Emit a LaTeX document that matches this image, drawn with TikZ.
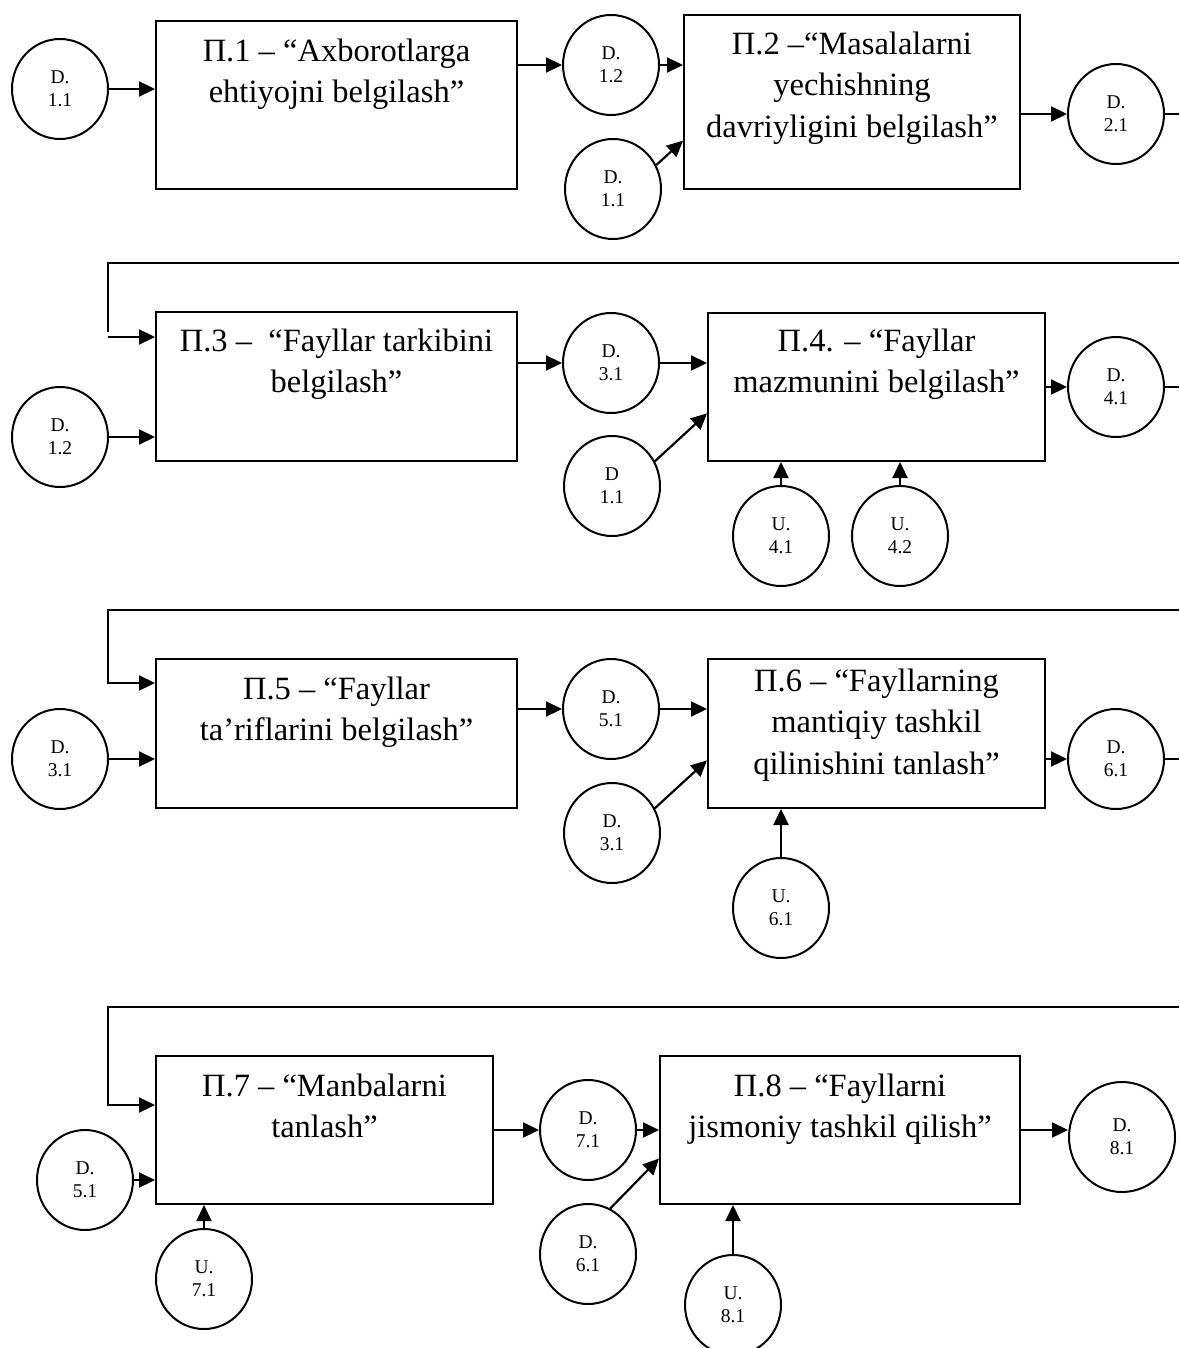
\documentclass[tikz,border=0pt]{standalone}
\usepackage{fontspec}
\setmainfont{Liberation Serif}
\usetikzlibrary{arrows.meta,shapes.geometric,calc}
\newcommand{\ftop}{\rule{0pt}{26pt}}
\begin{document}
\begin{tikzpicture}[x=1pt,y=-1pt,
  proc/.style={draw, line width=2pt, rectangle, inner sep=0},
  ptext/.style={anchor=north, inner sep=0, align=center, font=\fontsize{32.5}{41.7}\selectfont},
  dat/.style={draw, line width=2pt, ellipse, minimum width=96pt, minimum height=100pt, inner sep=0, align=center, font=\fontsize{19.5}{23}\selectfont},
  arr/.style={line width=2.2pt, -{Triangle[length=16pt,width=15pt]}},
  ln/.style={line width=2.2pt}]
\useasboundingbox[fill=white] (0,0) rectangle (1179,1348);

% ---------------- Row 1
\node[proc, minimum width=361pt, minimum height=168pt] (p1) at (336.5,105) {};
\node[ptext] (t1) at ([yshift=-15pt]p1.north) {\ftop Π.1 – “Axborotlarga\\ehtiyojni belgilash”};
\node[proc, minimum width=336pt, minimum height=174pt] (p2) at (852,102) {};
\node[ptext] (t2) at ([yshift=-14pt]p2.north) {\ftop Π.2 –“Masalalarni\\yechishning\\ davriyligini belgilash”};
\node[dat] (d11a) at (60,89) {D.\\1.1};
\node[dat] (d12a) at (611,65) {D.\\1.2};
\node[dat] (d11b) at (613,189) {D.\\1.1};
\node[dat] (d21) at (1116,114) {D.\\2.1};
\draw[arr] (d11a.east) -- (d11a.east -| p1.west);
\draw[arr] (d12a.west -| p1.east) -- (d12a.west);
\draw[arr] (d12a.east) -- (d12a.east -| p2.west);
\draw[arr] (d11b.29) -- ($(p2.north west)!0.72!(p2.south west)$);
\draw[arr] (d21.west -| p2.east) -- (d21.west);
\coordinate (e1) at (1179,114);
\draw[ln] (d21.east) -- (e1);

% ---------------- Row 2
\node[proc, minimum width=361pt, minimum height=149pt] (p3) at (336.5,386.5) {};
\node[ptext] (t3) at ([yshift=-14pt]p3.north) {\ftop Π.3 –\ \ “Fayllar tarkibini\\belgilash”};
\node[proc, minimum width=337pt, minimum height=148pt] (p4) at (876.5,387) {};
\node[ptext] (t4) at ([yshift=-13pt]p4.north) {\ftop Π.4. – “Fayllar\\mazmunini belgilash”};
\node[dat] (d12b) at (60,437) {D.\\1.2};
\node[dat] (d31a) at (611,363) {D.\\3.1};
\node[dat] (d11c) at (612,486) {D\\1.1};
\node[dat] (d41) at (1116,387) {D.\\4.1};
\node[dat] (u41) at (781,536) {U.\\4.1};
\node[dat] (u42) at (900,536) {U.\\4.2};
\coordinate (r2e) at (1179,263);
\coordinate (r2w) at (108,263);
\coordinate (r2a) at (108,337);
\draw[ln] (r2e) -- (r2w) -- ([yshift=5pt]r2a);
\draw[arr] (r2a) -- (r2a -| p3.west);
\draw[arr] (d12b.east) -- (d12b.east -| p3.west);
\draw[arr] (d31a.west -| p3.east) -- (d31a.west);
\draw[arr] (d31a.east) -- (d31a.east -| p4.west);
\draw[arr] (d11c.30) -- ($(p4.north west)!0.676!(p4.south west)$);
\draw[arr] (d41.west -| p4.east) -- (d41.west);
\draw[arr] (u41.north) -- (u41.north |- p4.south);
\draw[arr] (u42.north) -- (u42.north |- p4.south);
\coordinate (e2) at (1179,387);
\draw[ln] (d41.east) -- (e2);

% ---------------- Row 3
\node[proc, minimum width=361pt, minimum height=149pt] (p5) at (336.5,733.5) {};
\node[ptext] (t5) at ([yshift=-15pt]p5.north) {\ftop Π.5 – “Fayllar\\ta’riflarini belgilash”};
\node[proc, minimum width=337pt, minimum height=149pt] (p6) at (876.5,733.5) {};
\node[ptext] (t6) at ([yshift=-7pt]p6.north) {\ftop Π.6 – “Fayllarning\\mantiqiy tashkil\\qilinishini tanlash”};
\node[dat] (d31b) at (60,759) {D.\\3.1};
\node[dat] (d51a) at (611,709) {D.\\5.1};
\node[dat] (d31c) at (612,833) {D.\\3.1};
\node[dat] (d61a) at (1116,759) {D.\\6.1};
\node[dat] (u61) at (781,908) {U.\\6.1};
\coordinate (r3e) at (1179,610);
\coordinate (r3w) at (108,610);
\draw[arr] (r3e) -- (r3w) |- ([yshift=-25pt]p5.north west);
\draw[arr] (d31b.east) -- (d31b.east -| p5.west);
\draw[arr] (d51a.west -| p5.east) -- (d51a.west);
\draw[arr] (d51a.east) -- (d51a.east -| p6.west);
\draw[arr] (d31c.30) -- ($(p6.north west)!0.678!(p6.south west)$);
\draw[arr] (d61a.west -| p6.east) -- (d61a.west);
\draw[arr] (u61.north) -- (u61.north |- p6.south);
\coordinate (e3) at (1179,759);
\draw[ln] (d61a.east) -- (e3);

% ---------------- Row 4
\node[proc, minimum width=337pt, minimum height=148pt] (p7) at (324.5,1130) {};
\node[ptext] (t7) at ([yshift=-15pt]p7.north) {\ftop Π.7 – “Manbalarni\\tanlash”};
\node[proc, minimum width=360pt, minimum height=148pt] (p8) at (840,1130) {};
\node[ptext] (t8) at ([yshift=-15pt]p8.north) {\ftop Π.8 – “Fayllarni\\jismoniy tashkil qilish”};
\node[dat] (d51b) at (85,1180) {D.\\5.1};
\node[dat] (d71) at (588,1130) {D.\\7.1};
\node[dat] (d61b) at (588,1254) {D.\\6.1};
\node[dat, minimum width=106pt, minimum height=110pt] (d81) at (1122,1137) {D.\\8.1};
\node[dat] (u71) at (204,1279) {U.\\7.1};
\node[dat] (u81) at (733,1305) {U.\\8.1};
\coordinate (r4e) at (1179,1007);
\coordinate (r4w) at (108,1007);
\draw[arr] (r4e) -- (r4w) |- ([yshift=-50pt]p7.north west);
\draw[arr] (d51b.east) -- (d51b.east -| p7.west);
\draw[arr] (d71.west -| p7.east) -- (d71.west);
\draw[arr] (d71.east) -- (d71.east -| p8.west);
\draw[arr] (d61b.64) -- ($(p8.north west)!0.69!(p8.south west)$);
\draw[arr] (d71.east -| p8.east) -- (d71.east -| d81.west);
\draw[arr] (u71.north) -- (u71.north |- p7.south);
\draw[arr] (u81.north) -- (u81.north |- p8.south);
\end{tikzpicture}
\end{document}
